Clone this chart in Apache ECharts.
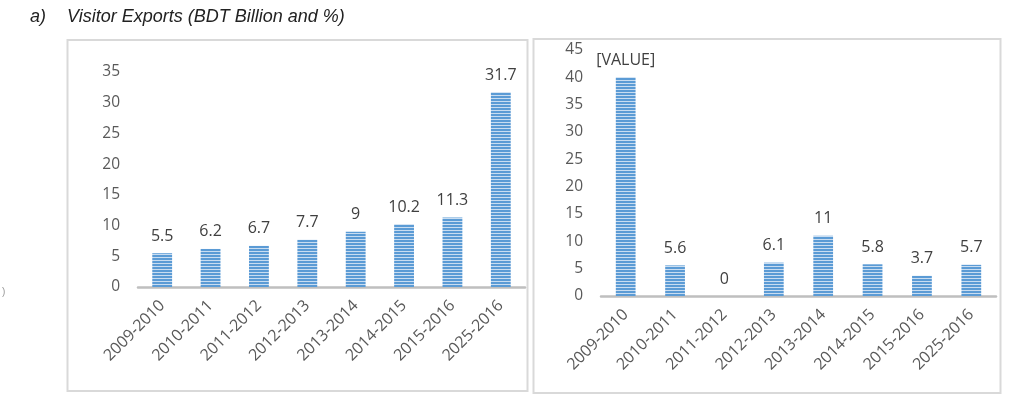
<!DOCTYPE html>
<html>
<head>
<meta charset="utf-8">
<script src="https://cdn.jsdelivr.net/npm/echarts@6/dist/echarts.min.js"></script>
<style>
html,body{margin:0;padding:0;background:#fff;}
#chart{width:1035px;height:397px;}
</style>
</head>
<body>
<div id="chart"></div>
<script>
const categories = ['2009-2010','2010-2011','2011-2012','2012-2013','2013-2014','2014-2015','2015-2016','2025-2016'];
const exportsBDT = [5.5, 6.2, 6.7, 7.7, 9, 10.2, 11.3, 31.7];
const exportsPct = [40, 5.6, 0, 6.1, 11, 5.8, 3.7, 5.7];
const pctLabels = ['[VALUE]', '5.6', '0', '6.1', '11', '5.8', '3.7', '5.7'];
const leftTicks = {min: 0, max: 35, interval: 5};
const rightTicks = {min: 0, max: 45, interval: 5};

function stripe() {
  const c = document.createElement('canvas');
  c.width = 4; c.height = 3;
  const g = c.getContext('2d');
  g.fillStyle = '#5B9BD5'; g.fillRect(0, 0, 4, 3);
  g.fillStyle = '#C9DDF1'; g.fillRect(0, 2, 4, 1);
  return {image: c, repeat: 'repeat'};
}
const pat = stripe();
const FONT = 'Open Sans';

function xAx(gi) {
  return {
    type: 'category', gridIndex: gi, data: categories,
    axisLine: {lineStyle: {color: '#BFBFBF', width: 2.5}},
    axisTick: {show: false},
    axisLabel: {rotate: 45, margin: 16, color: '#595959', fontSize: 16, fontFamily: FONT, interval: 0}
  };
}
function yAx(gi, t) {
  return {
    type: 'value', gridIndex: gi, min: t.min, max: t.max, interval: t.interval,
    axisLine: {show: false}, axisTick: {show: false}, splitLine: {show: false},
    axisLabel: {margin: 18, color: '#595959', fontSize: 15.5, fontFamily: FONT}
  };
}
const barStyle = {color: pat, borderWidth: 0};
const chart = echarts.init(document.getElementById('chart'), null, {renderer: 'canvas'});
chart.setOption({
  animation: false,
  graphic: [
    {type: 'text', left: 30, top: 8, style: {text: 'a)', font: 'italic 18px "Liberation Sans"', fill: '#222'}},
    {type: 'text', left: 67, top: 8, style: {text: 'Visitor Exports (BDT Billion and %)', font: 'italic 18px "Liberation Sans"', fill: '#222'}},
    {type: 'rect', shape: {x: 67.5, y: 40, width: 460, height: 351}, style: {fill: 'none', stroke: '#D9D9D9', lineWidth: 2}, z: -1},
    {type: 'rect', shape: {x: 533.5, y: 39, width: 467, height: 354}, style: {fill: 'none', stroke: '#D9D9D9', lineWidth: 2}, z: -1},
    {type: 'text', left: 2, top: 287, style: {text: ')', font: '10px "Liberation Sans"', fill: '#999'}}
  ],
  grid: [
    {left: 138, right: 510, top: 72, bottom: 110},
    {left: 601, right: 39, top: 50, bottom: 101}
  ],
  xAxis: [xAx(0), xAx(1)],
  yAxis: [yAx(0, leftTicks), yAx(1, rightTicks)],
  series: [
    {type: 'bar', xAxisIndex: 0, yAxisIndex: 0, data: exportsBDT, barWidth: '41%', itemStyle: barStyle,
     label: {show: true, position: 'top', distance: 9, color: '#404040', fontSize: 16, fontFamily: FONT}},
    {type: 'bar', xAxisIndex: 1, yAxisIndex: 1, data: exportsPct, barWidth: '40%', itemStyle: barStyle,
     label: {show: true, position: 'top', distance: 9, color: '#404040', fontSize: 16, fontFamily: FONT,
       formatter: p => pctLabels[p.dataIndex]}}
  ]
});
</script>
</body>
</html>
